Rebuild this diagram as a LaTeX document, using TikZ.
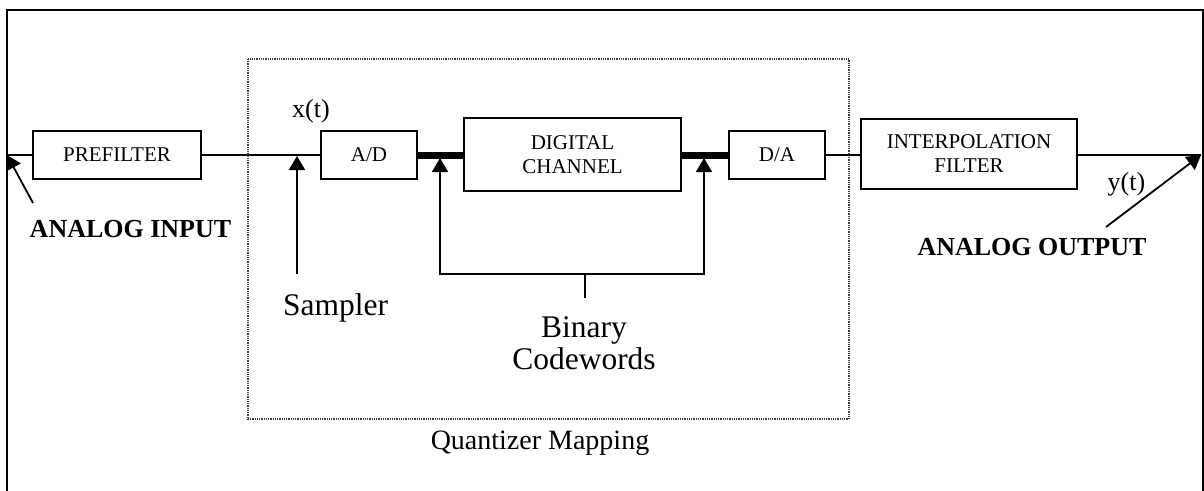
\documentclass[tikz,border=0pt]{standalone}
\usepackage{fontspec}
\setmainfont{Liberation Serif}
\usetikzlibrary{arrows.meta}
\tikzset{
  blockbox/.style={draw, line width=1.8pt, fill=white, inner sep=0pt, align=center,
                   font=\fontsize{21}{24}\selectfont},
  sigline/.style={line width=1.6pt},
  busline/.style={line width=7pt},
  pointer/.style={line width=1.8pt, -{Triangle[width=16pt,length=14pt]}},
  plainlbl/.style={inner sep=0pt, font=\fontsize{26}{30}\selectfont},
  biglbl/.style={inner sep=0pt, font=\fontsize{31.5}{32}\selectfont, align=center},
  boldlbl/.style={inner sep=0pt, font=\fontsize{26}{30}\selectfont\bfseries},
}
\begin{document}
\begin{tikzpicture}[x=1pt, y=-1pt]
  \useasboundingbox (0,0) rectangle (1204,490);
  \fill[white] (0,0) rectangle (1204,490);

  % outer frame, running past the lower edge
  \begin{scope}
    \clip (0,0) rectangle (1204,490);
    \draw[line width=2.5pt] (7,520) -- (7,10) -- (1203,10) -- (1203,520);
  \end{scope}

  % quantizer mapping enclosure
  \draw[line width=1.5pt, black!75, dash pattern=on 1pt off 0.8pt] (248,59) rectangle (849,419);

  % processing blocks
  \node[blockbox, minimum width=168pt, minimum height=48pt] (pre) at (117,155) {PREFILTER};
  \node[blockbox, minimum width=96pt, minimum height=48pt] (ad) at (369,155) {A/D};
  \node[blockbox, minimum width=217pt, minimum height=73pt] (dc) at (572.5,154.5) {DIGITAL\\CHANNEL};
  \node[blockbox, minimum width=96pt, minimum height=48pt] (da) at (777,155) {D/A};
  \node[blockbox, minimum width=216pt, minimum height=70pt] (ip) at (969,154) {INTERPOLATION\\FILTER};

  % signal path
  \coordinate (src) at (7,155);
  \coordinate (dst) at (1201,155);
  \draw[sigline] (src) -- (pre.west);
  \draw[sigline] (pre.east) -- (ad.west);
  \draw[busline] (ad.east) -- (ad.east -| dc.west);
  \draw[busline] (da.west -| dc.east) -- (da.west);
  \draw[sigline] (da.east) -- (da.east -| ip.west);
  \draw[sigline] (ip.east |- dst) -- (dst);

  % labels on the path
  \node[plainlbl, anchor=base] (xt) at (311,117) {x(t)};
  \node[plainlbl, anchor=base] (yt) at (1126.5,190) {y(t)};

  % analog input / output pointers
  \node[boldlbl, anchor=base] (ain) at (130.5,237) {ANALOG INPUT};
  \node[boldlbl, anchor=base] (aout) at (1032,255) {ANALOG OUTPUT};
  \coordinate (ainTail) at (33,203);
  \coordinate (aoutTail) at (1106,227);
  \draw[pointer] (ainTail) -- (src);
  \draw[pointer] (aoutTail) -- (dst);

  % sampler
  \coordinate (smpTip) at (297,156);
  \coordinate (smpTail) at (297,274);
  \draw[pointer] (smpTail) -- (smpTip);
  \node[biglbl, anchor=base west] (smp) at (283,315) {Sampler};

  % binary codewords bracket
  \coordinate (cwL) at (440,274);
  \coordinate (cwR) at (704,274);
  \coordinate (cwLtip) at (440,158);
  \coordinate (cwRtip) at (704,158);
  \coordinate (cwMid) at (585,274);
  \coordinate (cwStem) at (585,298);
  \draw[line width=1.8pt] (cwLtip) -- (cwL) -- (cwR) -- (cwRtip);
  \draw[pointer] (cwL) -- (cwLtip);
  \draw[pointer] (cwR) -- (cwRtip);
  \draw[line width=1.8pt] (cwMid) -- (cwStem);
  \node[biglbl, anchor=base] (cw) at (584,369) {Binary\\Codewords};

  % enclosure caption
  \node[inner sep=0pt, font=\fontsize{28}{32}\selectfont, anchor=base] (qm) at (540,449) {Quantizer Mapping};
\end{tikzpicture}
\end{document}
